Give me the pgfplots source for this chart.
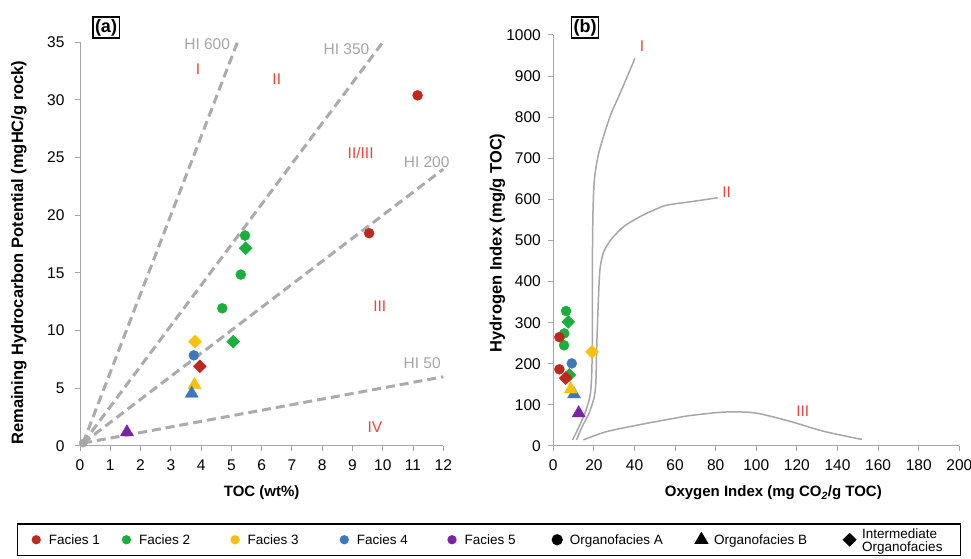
\documentclass[border=0pt]{standalone}
\usepackage{fontspec}
\setmainfont{Liberation Sans}
\usepackage{pgfplots}
\pgfplotsset{compat=1.18}
\definecolor{fone}{HTML}{C0281E}
\definecolor{ftwo}{HTML}{17B03A}
\definecolor{fthree}{HTML}{FFC000}
\definecolor{ffour}{HTML}{3C78BE}
\definecolor{ffive}{HTML}{7B22A8}
\definecolor{axgray}{HTML}{A6A6A6}
\definecolor{dashgray}{HTML}{ABABAB}
\definecolor{hired}{HTML}{E8453C}
\pgfplotsset{
  base/.style={scale only axis, axis x line*=bottom, axis y line*=left,
    axis line style={draw=axgray, line width=1pt},
    tick style={draw=axgray, line width=1pt}, tick align=outside, major tick length=5pt,
    tick label style={font=\fontsize{15.5}{15.5}\selectfont},
    xticklabel style={yshift=-5pt},
    /pgf/number format/assume math mode=true, /pgf/number format/1000 sep={},
    x label style={font=\bfseries\fontsize{15}{15}\selectfont},
    y label style={font=\bfseries\fontsize{16.5}{16.5}\selectfont}, clip=false},
  circ/.style={only marks, mark=*, mark size=5pt},
  diam/.style={only marks, mark=square*, mark size=4.6pt, mark options={rotate=45}},
  tri/.style={only marks, mark=triangle*, mark size=7.5pt},
  hiline/.style={draw=dashgray, line width=3pt, dash pattern=on 9pt off 5pt},
  curve/.style={draw=axgray, line width=1.5pt, smooth, tension=0.5},
}
\begin{document}
\begin{tikzpicture}[x=1pt,y=1pt]
% ---------------- panel (a)
\begin{axis}[base, at={(80pt,113pt)}, anchor=south west,
  width=363.3pt, height=403.7pt, xmin=0, xmax=12, ymin=0, ymax=35,
  xtick distance=1, ytick distance=5,
  yticklabel style={xshift=-7pt},
  xlabel={TOC (wt\%)}, ylabel={Remaining Hydrocarbon Potential (mgHC/g rock)},
  x label style={at={(axis description cs:0.5,0)}, anchor=center, yshift=-47pt},
  y label style={at={(axis description cs:-0.1679,0.479)}, anchor=center},
  legend columns=8, legend cell align=left,
  legend image code/.code={\path (-6pt,0pt) (6pt,0pt); \draw[#1] plot coordinates {(0pt,0pt)};},
  legend style={at={(axis description cs:-0.1742,-0.1915)}, anchor=north west,
    draw=black, line width=1.2pt, fill=white, inner xsep=12.3pt, inner ysep=4.5pt,
    nodes={inner sep=0pt, text depth=0pt}, cells={align=left},
    font=\fontsize{13.5}{14.5}\selectfont},
]
\addplot[hiline, forget plot] coordinates {(0.1,0.25) (5.2,35)};
\addplot[hiline, forget plot] coordinates {(0.1,0.25) (10,35)};
\addplot[hiline, forget plot] coordinates {(0.1,0.25) (12,24)};
\addplot[hiline, forget plot] coordinates {(0.1,0.25) (12,6)};
\addplot[only marks, mark=*, mark size=4pt, color=axgray, forget plot] coordinates {(0.1,0.25)};
\addplot[circ, color=fone, forget plot] coordinates {(11.15,30.4) (9.55,18.45)};
\addplot[circ, color=ftwo, forget plot] coordinates {(5.45,18.24) (5.31,14.86) (4.70,11.94)};
\addplot[circ, color=ffour, forget plot] coordinates {(3.76,7.86)};
\addplot[diam, color=ftwo, forget plot] coordinates {(5.47,17.15) (5.06,9.05)};
\addplot[diam, color=fthree, forget plot] coordinates {(3.80,9.05)};
\addplot[diam, color=fone, forget plot] coordinates {(3.96,6.91)};
\addplot[tri, color=fthree, forget plot] coordinates {(3.78,5.3)};
\addplot[tri, color=ffour, forget plot] coordinates {(3.69,4.55)};
\addplot[tri, color=ffive, forget plot] coordinates {(1.55,1.2)};
\node[text=axgray, font=\fontsize{15.5}{15.5}\selectfont] at (axis cs:4.2,34.8) {HI 600};
\node[text=axgray, font=\fontsize{15.5}{15.5}\selectfont] at (axis cs:8.8,34.4) {HI 350};
\node[text=axgray, font=\fontsize{15.5}{15.5}\selectfont] at (axis cs:11.45,24.6) {HI 200};
\node[text=axgray, font=\fontsize{15.5}{15.5}\selectfont] at (axis cs:11.3,7.2) {HI 50};
\node[text=hired, font=\fontsize{15.5}{15.5}\selectfont] at (axis cs:3.9,32.7) {I};
\node[text=hired, font=\fontsize{15.5}{15.5}\selectfont] at (axis cs:6.5,31.8) {II};
\node[text=hired, font=\fontsize{15.5}{15.5}\selectfont] at (axis cs:9.27,25.4) {II/III};
\node[text=hired, font=\fontsize{15.5}{15.5}\selectfont] at (axis cs:9.9,12.1) {III};
\node[text=hired, font=\fontsize{15.5}{15.5}\selectfont] at (axis cs:9.74,1.6) {IV};
\addlegendimage{only marks, mark=*, mark size=4pt, color=fone}
\addlegendentry{\makebox[77pt][l]{\hspace{6pt}Facies 1}}
\addlegendimage{only marks, mark=*, mark size=4pt, color=ftwo}
\addlegendentry{\makebox[95.5pt][l]{\hspace{6pt}Facies 2}}
\addlegendimage{only marks, mark=*, mark size=4pt, color=fthree}
\addlegendentry{\makebox[96pt][l]{\hspace{6pt}Facies 3}}
\addlegendimage{only marks, mark=*, mark size=4pt, color=ffour}
\addlegendentry{\makebox[94.5pt][l]{\hspace{6pt}Facies 4}}
\addlegendimage{only marks, mark=*, mark size=4pt, color=ffive}
\addlegendentry{\makebox[92pt][l]{\hspace{6pt}Facies 5}}
\addlegendimage{only marks, mark=*, mark size=5pt, color=black}
\addlegendentry{\makebox[131pt][l]{\hspace{6pt}Organofacies A}}
\addlegendimage{only marks, mark=triangle*, mark size=7pt, color=black}
\addlegendentry{\makebox[135pt][l]{\hspace{6pt}Organofacies B}}
\addlegendimage{only marks, mark=square*, mark size=4.4pt, mark options={rotate=45}, color=black}
\addlegendentry{\makebox[92pt][l]{\hspace{6pt}\shortstack[l]{Intermediate\\Organofacies}}}
\end{axis}
% ---------------- panel (b)
\begin{axis}[base, at={(553.3pt,113pt)}, anchor=south west,
  width=406pt, height=411pt, xmin=0, xmax=200, ymin=0, ymax=1000,
  xtick distance=20, ytick distance=100,
  yticklabel style={xshift=-4pt},
  xlabel={Oxygen Index (mg CO\textsubscript{\textit{2}}/g TOC)}, ylabel={Hydrogen Index (mg/g TOC)},
  x label style={at={(axis description cs:0.5,0)}, anchor=center, yshift=-47pt, xshift=17pt},
  y label style={at={(axis description cs:-0.1379,0.494)}, anchor=center},
]
\addplot[curve] coordinates {(9.5,15) (12,40) (15.6,80) (18,120) (18.8,160) (19.2,240) (19.2,355) (19.3,480) (19.6,580) (20.3,650) (22.5,715) (27.9,801) (32.9,858) (40.2,943)};
\addplot[curve] coordinates {(11.5,15) (14,45) (17.6,80) (20.2,120) (21,160) (21.4,242) (22.2,355) (23,430) (24.6,469) (27,492) (29.6,509) (35,535) (42.7,558) (50,575) (55.9,586) (67.3,594) (81,604)};
\addplot[curve] coordinates {(14.8,15) (26.3,35) (42.7,52) (59,67) (67.3,74) (80,81) (88,83) (100,80) (116.6,60) (133,36) (152,16)};
\addplot[circ, color=ftwo] coordinates {(6.3,328.5) (5.4,274) (5.3,245)};
\addplot[circ, color=fone] coordinates {(3.0,265) (3.0,186.6)};
\addplot[circ, color=ffour] coordinates {(9.1,201)};
\addplot[diam, color=ftwo] coordinates {(7.4,302) (7.9,173)};
\addplot[diam, color=fone] coordinates {(6.1,165)};
\addplot[diam, color=fthree] coordinates {(19.1,229)};
\addplot[tri, color=ffour] coordinates {(10.2,126)};
\addplot[tri, color=fthree] coordinates {(8.6,138)};
\addplot[tri, color=ffive] coordinates {(12.5,80)};
\node[text=hired, font=\fontsize{15.5}{15.5}\selectfont] at (axis cs:43.7,973) {I};
\node[text=hired, font=\fontsize{15.5}{15.5}\selectfont] at (axis cs:85.4,618) {II};
\node[text=hired, font=\fontsize{15.5}{15.5}\selectfont] at (axis cs:122.9,85) {III};
\end{axis}
\node[draw=black, line width=1.4pt, inner sep=2.2pt, font=\bfseries\fontsize{18}{18}\selectfont] at (106,531.5) {(a)};
\node[draw=black, line width=1.4pt, inner sep=2.2pt, font=\bfseries\fontsize{18}{18}\selectfont] at (585,531.5) {(b)};
\pgfresetboundingbox
\path[use as bounding box] (0,0) rectangle (971,559);
\end{tikzpicture}
\end{document}
